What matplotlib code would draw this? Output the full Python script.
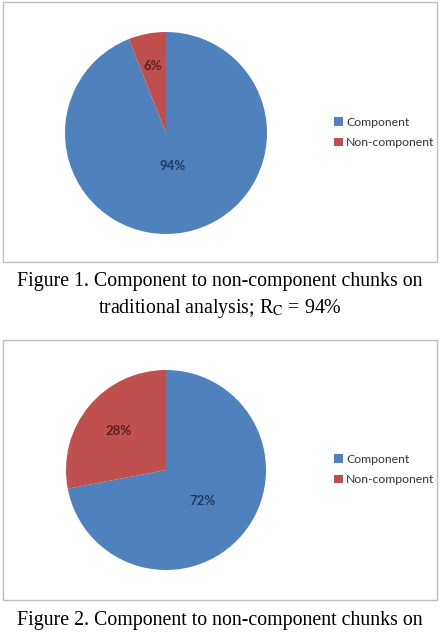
import numpy as np
import matplotlib.pyplot as plt
from matplotlib.patches import Rectangle

# data
categories = ["Component", "Non-component"]
traditional_values = [94, 6]
proposed_values = [72, 28]
slice_colors = ["#4F81BD", "#C0504D"]
label_colors = ["#1F3B63", "#5A1F1E"]
captions = [
    "Figure 1. Component to non-component chunks on\ntraditional analysis; R$_{\\mathrm{C}}$ = 94%",
    "Figure 2. Component to non-component chunks on",
]

plt.rcParams['mathtext.fontset'] = 'stix'

W, H = 441, 635
fig = plt.figure(figsize=(W / 100, H / 100), dpi=100)


def px_axes(x0, y0, x1, y1):
    # axes from pixel box (top-left origin)
    return fig.add_axes([x0 / W, 1 - y1 / H, (x1 - x0) / W, (y1 - y0) / H])


def draw_box(x0, y0, x1, y1):
    fig.patches.append(Rectangle((x0 / W, 1 - y1 / H), (x1 - x0) / W, (y1 - y0) / H,
                                 transform=fig.transFigure, fill=False,
                                 edgecolor="#BEBEBE", linewidth=1.0))


def draw_pie(values, cx, cy, r, label_dist, legend_y):
    ax = px_axes(cx - r, cy - r, cx + r, cy + r)
    wedges, _ = ax.pie(values, colors=slice_colors, startangle=90, counterclock=False,
                       wedgeprops=dict(linewidth=0))
    ax.set_xlim(-1, 1)
    ax.set_ylim(-1, 1)
    for w, v, d, c in zip(wedges, values, label_dist, label_colors):
        ang = np.deg2rad((w.theta1 + w.theta2) / 2)
        ax.text(d * np.cos(ang), d * np.sin(ang), f"{v}%", ha="center", va="center",
                fontsize=9.5, fontweight="bold", color=c, family="Lato")
    ax.legend(wedges, categories, loc="center left",
              bbox_to_anchor=(334 / W, 1 - legend_y / H), bbox_transform=fig.transFigure,
              frameon=False, handlelength=0.7, handleheight=0.7, handletextpad=0.3,
              labelspacing=0.75, borderpad=0, borderaxespad=0,
              prop=dict(family="Lato", size=8.8), labelcolor="#333333")


# figure 1
draw_box(3, 2, 437, 262)
draw_pie(traditional_values, 166, 133, 101, [0.33, 0.68], 132.5)
fig.text(220 / W, 1 - 296 / H, captions[0], ha="center", va="center",
         family="Liberation Serif", fontsize=14.3, linespacing=1.35)

# figure 2
draw_box(3, 340, 437, 600)
draw_pie(proposed_values, 166, 470, 100, [0.48, 0.61], 469.5)
fig.text(220 / W, 1 - 621 / H, captions[1], ha="center", va="center",
         family="Liberation Serif", fontsize=14.3)

fig.savefig("out.png", dpi=100)
